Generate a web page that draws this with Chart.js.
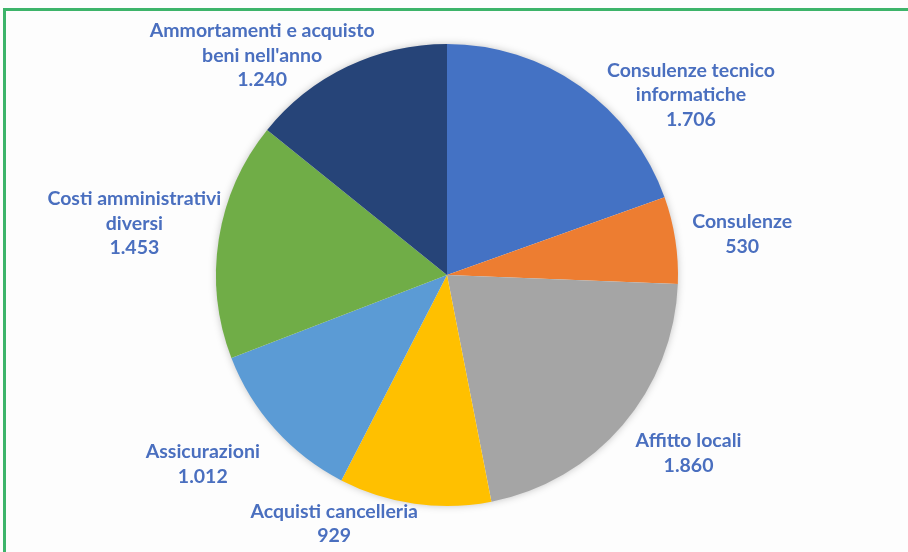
<!DOCTYPE html>
<html>
<head>
<meta charset="utf-8">
<script src="https://cdn.jsdelivr.net/npm/chart.js@4"></script>
<style>
  html, body { margin: 0; padding: 0; background: #fdfdfd; overflow: hidden; }
  #wrap { position: relative; width: 908px; height: 552px; }
  #frame {
    position: absolute; left: 3px; top: 8px; width: 1000px; height: 1000px;
    border: 3px solid #3db46a; box-sizing: border-box;
  }
  canvas { position: absolute; left: 0; top: 0; }
</style>
</head>
<body>
<div id="wrap">
  <div id="frame"></div>
  <canvas id="pie" width="908" height="552"></canvas>
</div>
<script>
// ── Data ────────────────────────────────────────────────────────────────────
const categories = [
  ['Consulenze tecnico', 'informatiche'],
  ['Consulenze'],
  ['Affitto locali'],
  ['Acquisti cancelleria'],
  ['Assicurazioni'],
  ['Costi amministrativi', 'diversi'],
  ['Ammortamenti e acquisto', 'beni nell\'anno'],
];
const values = [1706, 530, 1860, 929, 1012, 1453, 1240];
const colors = ['#4472C4', '#ED7D31', '#A5A5A5', '#FFC000', '#5B9BD5', '#70AD47', '#264478'];

// Where each data label sits: polar angle (deg, clockwise from top) and distance / radius
const labelAngle  = [53.6, 82.1, 126.4, 204.4, 232.2, 279.4, 319.9];
const labelRadius = [1.312, 1.290, 1.299, 1.182, 1.338, 1.372, 1.242];

// ── Helpers ─────────────────────────────────────────────────────────────────
function fmtIt(v) {
  return String(v).replace(/\B(?=(\d{3})+(?!\d))/g, '.');
}

const pieShadow = {
  id: 'pieShadow',
  beforeDatasetsDraw(chart) {
    const arc = chart.getDatasetMeta(0).data[0];
    if (!arc) return;
    const ctx = chart.ctx;
    ctx.save();
    ctx.shadowColor = 'rgba(0,0,0,0.28)';
    ctx.shadowBlur = 9;
    ctx.fillStyle = '#ffffff';
    ctx.beginPath();
    ctx.arc(arc.x, arc.y, arc.outerRadius - 1, 0, Math.PI * 2);
    ctx.fill();
    ctx.restore();
  }
};

const outsideLabels = {
  id: 'outsideLabels',
  afterDatasetsDraw(chart) {
    const meta = chart.getDatasetMeta(0);
    const arc = meta.data[0];
    if (!arc) return;
    const ctx = chart.ctx;
    const lh = 24.5;
    ctx.save();
    ctx.font = 'bold 19.5px Lato, "Open Sans", sans-serif';
    ctx.fillStyle = '#4a6fbf';
    ctx.textAlign = 'center';
    ctx.textBaseline = 'middle';
    categories.forEach((lines, i) => {
      const a = labelAngle[i] * Math.PI / 180;
      const d = arc.outerRadius * labelRadius[i];
      const x = arc.x + Math.sin(a) * d;
      const y = arc.y - Math.cos(a) * d;
      const all = lines.concat([fmtIt(values[i])]);
      const y0 = y - (all.length - 1) * lh / 2;
      all.forEach((t, j) => ctx.fillText(t, x, y0 + j * lh));
    });
    ctx.restore();
  }
};

// ── Chart ───────────────────────────────────────────────────────────────────
new Chart(document.getElementById('pie').getContext('2d'), {
  type: 'pie',
  data: {
    labels: categories,
    datasets: [{
      data: values,
      backgroundColor: colors,
      borderWidth: 0,
    }]
  },
  options: {
    responsive: false,
    animation: false,
    layout: { padding: { top: 44, bottom: 46, left: 100, right: 114 } },
    plugins: {
      legend: { display: false },
      tooltip: { enabled: false },
    }
  },
  plugins: [pieShadow, outsideLabels]
});
</script>
</body>
</html>
